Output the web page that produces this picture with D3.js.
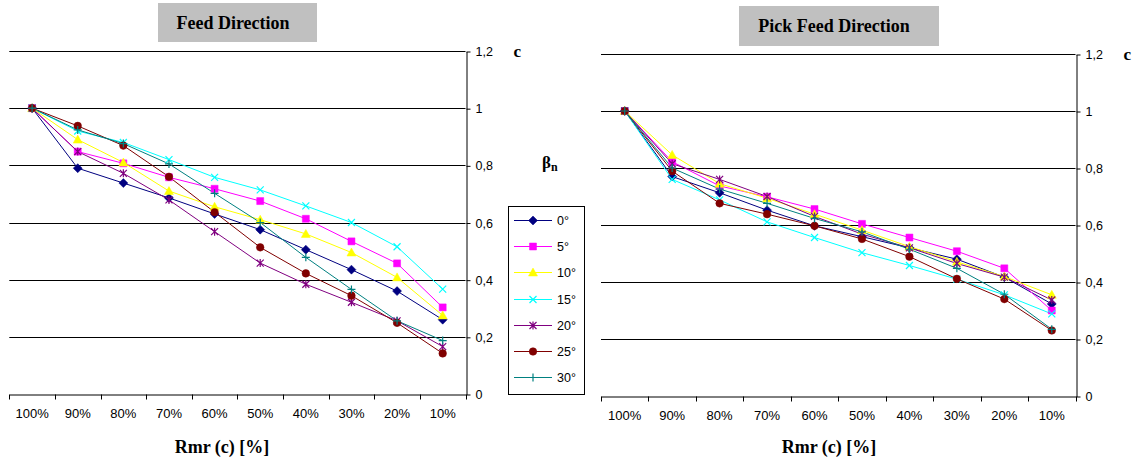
<!DOCTYPE html>
<html>
<head>
<meta charset="utf-8">
<script src="https://cdn.jsdelivr.net/npm/d3@7"></script>
<style>
  body { margin: 0; background: #fff; }
  svg { display: block; }
</style>
</head>
<body>
<svg id="chart" width="1137" height="462"></svg>
<script>
"use strict";

// categories and labels
const categories = ["100%", "90%", "80%", "70%", "60%", "50%", "40%", "30%", "20%", "10%"];
const seriesNames = ["0°", "5°", "10°", "15°", "20°", "25°", "30°"];
const seriesColors = ["#000080", "#ff00ff", "#ffff00", "#00ffff", "#800080", "#800000", "#008080"];
const seriesMarkers = ["diamond", "square", "triangle", "x", "asterisk", "circle", "plus"];
const yTicks = [0, 0.2, 0.4, 0.6, 0.8, 1, 1.2];
const yTickLabels = ["0", "0,2", "0,4", "0,6", "0,8", "1", "1,2"];

// Feed Direction
const feed0  = [1, 0.79, 0.738, 0.686, 0.63, 0.575, 0.505, 0.435, 0.36, 0.26];
const feed5  = [1, 0.848, 0.807, 0.758, 0.718, 0.675, 0.613, 0.534, 0.457, 0.303];
const feed10 = [1, 0.89, 0.81, 0.71, 0.655, 0.61, 0.56, 0.495, 0.408, 0.275];
const feed15 = [1, 0.92, 0.88, 0.82, 0.758, 0.714, 0.658, 0.6, 0.515, 0.367];
const feed20 = [1, 0.848, 0.772, 0.679, 0.568, 0.458, 0.384, 0.321, 0.256, 0.166];
const feed25 = [1, 0.938, 0.869, 0.76, 0.636, 0.513, 0.422, 0.344, 0.249, 0.142];
const feed30 = [1, 0.924, 0.876, 0.805, 0.702, 0.6, 0.478, 0.366, 0.256, 0.187];

// Pick Feed Direction
const pick0  = [1, 0.77, 0.713, 0.652, 0.597, 0.559, 0.52, 0.48, 0.417, 0.323];
const pick5  = [1, 0.822, 0.737, 0.699, 0.656, 0.604, 0.556, 0.508, 0.448, 0.3];
const pick10 = [1, 0.846, 0.745, 0.694, 0.638, 0.582, 0.524, 0.471, 0.419, 0.355];
const pick15 = [1, 0.76, 0.688, 0.611, 0.556, 0.503, 0.458, 0.41, 0.355, 0.288];
const pick20 = [1, 0.815, 0.76, 0.7, 0.63, 0.568, 0.52, 0.465, 0.417, 0.337];
const pick25 = [1, 0.789, 0.676, 0.638, 0.597, 0.551, 0.489, 0.411, 0.34, 0.23];
const pick30 = [1, 0.8, 0.726, 0.676, 0.623, 0.576, 0.515, 0.448, 0.357, 0.234];

const feedSeries = [feed0, feed5, feed10, feed15, feed20, feed25, feed30];
const pickSeries = [pick0, pick5, pick10, pick15, pick20, pick25, pick30];

const svg = d3.select("#chart");
const sans = "'Liberation Sans', Arial, sans-serif";
const serif = "'Liberation Serif', 'Times New Roman', serif";

// marker paths, centered on 0,0
function markerPath(type) {
  switch (type) {
    case "diamond": return "M0,-4.5L4.5,0L0,4.5L-4.5,0Z";
    case "square": return "M-3.5,-3.5H3.5V3.5H-3.5Z";
    case "triangle": return "M0,-4.5L4.5,3.5H-4.5Z";
    case "x": return "M-3.5,-3.5L3.5,3.5M3.5,-3.5L-3.5,3.5";
    case "asterisk": return "M-3.5,-3.5L3.5,3.5M3.5,-3.5L-3.5,3.5M0,-4V4";
    case "circle": return "M3.8,0A3.8,3.8 0 1,1 -3.8,0A3.8,3.8 0 1,1 3.8,0Z";
    case "plus": return "M-4,0H4M0,-4V4";
  }
}
const filled = { diamond: true, square: true, triangle: true, circle: true };

function drawMarker(g, type, color, cx, cy) {
  let p = g.append("path")
    .attr("d", markerPath(type))
    .attr("transform", "translate(" + cx + "," + cy + ")");
  if (filled[type]) {
    p.attr("fill", color).attr("stroke", color).attr("stroke-width", 0.5);
  } else {
    p.attr("fill", "none").attr("stroke", color).attr("stroke-width", 1.2);
  }
}

function drawPanel(cfg) {
  let g = svg.append("g");

  let x = d3.scaleBand().domain(categories).range([cfg.x0, cfg.x1]).padding(0);
  let y = d3.scaleLinear().domain([0, 1.2]).range([cfg.yBottom, cfg.yTop]);

  // horizontal gridlines
  g.selectAll(".grid").data(yTicks.filter(d => d > 0)).enter()
    .append("line")
    .attr("x1", cfg.x0).attr("x2", cfg.x1)
    .attr("y1", d => Math.round(y(d)) + 0.5).attr("y2", d => Math.round(y(d)) + 0.5)
    .attr("stroke", "#000").attr("stroke-width", 1);

  // right value axis
  let yAxis = d3.axisRight(y)
    .tickValues(yTicks)
    .tickFormat((d, i) => yTickLabels[i])
    .tickSize(4)
    .tickPadding(5)
    .tickSizeOuter(0);
  let ya = g.append("g")
    .attr("transform", "translate(" + (Math.round(cfg.x1) + 0.5) + ",0.5)")
    .call(yAxis);
  ya.select(".domain").attr("stroke", "#000");
  ya.selectAll("line").attr("stroke", "#000");
  ya.selectAll("text").attr("font-family", sans).attr("font-size", 12.5).attr("fill", "#000");

  // category axis with ticks between categories
  let xAxis = d3.axisBottom(x).tickSize(0).tickPadding(14).tickSizeOuter(0);
  let xa = g.append("g")
    .attr("transform", "translate(0," + (Math.round(cfg.yBottom) + 0.5) + ")")
    .call(xAxis);
  xa.select(".domain").attr("stroke", "#000");
  xa.selectAll("text").attr("font-family", sans).attr("font-size", 13).attr("fill", "#000");
  let edges = categories.map(c => x(c)).concat([x.range()[1]]);
  xa.selectAll(".edge").data(edges).enter()
    .append("line")
    .attr("x1", d => Math.round(d) + 0.5).attr("x2", d => Math.round(d) + 0.5)
    .attr("y1", 0).attr("y2", 5)
    .attr("stroke", "#000");

  // series lines and markers
  let line = d3.line()
    .x((d, i) => x(categories[i]) + x.bandwidth() / 2)
    .y(d => y(d));

  cfg.series.forEach(function(values, s) {
    g.append("path")
      .datum(values)
      .attr("d", line)
      .attr("fill", "none")
      .attr("stroke", seriesColors[s])
      .attr("stroke-width", 1);
  });
  cfg.series.forEach(function(values, s) {
    values.forEach(function(v, i) {
      drawMarker(g, seriesMarkers[s], seriesColors[s], x(categories[i]) + x.bandwidth() / 2, y(v));
    });
  });

  // title box
  g.append("rect")
    .attr("x", cfg.titleBox[0]).attr("y", cfg.titleBox[1])
    .attr("width", cfg.titleBox[2]).attr("height", cfg.titleBox[3])
    .attr("fill", "#c0c0c0");
  g.append("text")
    .attr("x", cfg.titleX).attr("y", cfg.titleBox[1] + cfg.titleBox[3] / 2 + 6)
    .attr("text-anchor", "middle")
    .attr("font-family", serif).attr("font-weight", "bold").attr("font-size", 18)
    .text(cfg.title);

  // axis titles
  g.append("text")
    .attr("x", cfg.x1 + 48).attr("y", cfg.yTop + 6)
    .attr("font-family", serif).attr("font-weight", "bold").attr("font-size", 17)
    .text("c");
  g.append("text")
    .attr("x", cfg.xTitleX).attr("y", 453)
    .attr("text-anchor", "middle")
    .attr("font-family", serif).attr("font-weight", "bold").attr("font-size", 18)
    .text("Rmr (c) [%]");
}

drawPanel({
  x0: 9.3, x1: 465.5, yBottom: 394, yTop: 51,
  series: feedSeries,
  title: "Feed Direction", titleBox: [158, 3, 159, 39], titleX: 233,
  xTitleX: 222
});

drawPanel({
  x0: 601, x1: 1075.5, yBottom: 396, yTop: 54,
  series: pickSeries,
  title: "Pick Feed Direction", titleBox: [739, 6, 200, 40], titleX: 834,
  xTitleX: 829
});

// legend
let legend = svg.append("g");
legend.append("text")
  .attr("x", 542).attr("y", 168)
  .attr("font-family", serif).attr("font-weight", "bold").attr("font-size", 17)
  .text("β")
  .append("tspan")
  .attr("font-size", 12).attr("dy", 3)
  .text("n");
legend.append("rect")
  .attr("x", 508.5).attr("y", 206.5)
  .attr("width", 76).attr("height", 188)
  .attr("fill", "#fff").attr("stroke", "#000").attr("stroke-width", 1);
let ly = d3.scalePoint().domain(seriesNames).range([220, 377]);
seriesNames.forEach(function(name, s) {
  let yy = Math.round(ly(name)) + 0.5;
  legend.append("line")
    .attr("x1", 514).attr("x2", 552).attr("y1", yy).attr("y2", yy)
    .attr("stroke", seriesColors[s]).attr("stroke-width", 1);
  drawMarker(legend, seriesMarkers[s], seriesColors[s], 533, yy);
  legend.append("text")
    .attr("x", 557).attr("y", yy + 4.5)
    .attr("font-family", sans).attr("font-size", 12.5)
    .text(name);
});
</script>
</body>
</html>
